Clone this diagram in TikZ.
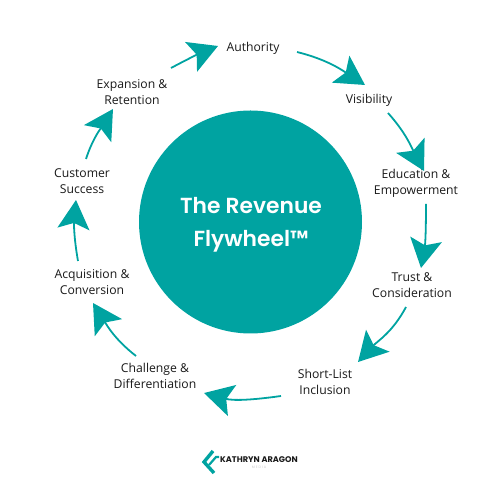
\documentclass[tikz,border=0pt]{standalone}
\usepackage{fontspec}
\setmainfont{Open Sans}
\newfontfamily\titlefont{Poppins SemiBold}
\newfontfamily\brandfont{Poppins}
\usetikzlibrary{arrows.meta}
\definecolor{flyteal}{HTML}{00A3A1}
\begin{document}
\begin{tikzpicture}[
        x=1pt, y=1pt,
        every node/.style={inner sep=0pt},
        stage/.style={align=center, text=black!90, font=\fontsize{12.2}{16}\selectfont},
        flow/.style={draw=flyteal, line width=1.8pt, -{Stealth[length=29pt, width=32pt, inset=6pt]}},
    ]
    \useasboundingbox (0,0) rectangle (500,500);

    \node[circle, fill=flyteal, minimum size=223pt](hub) at (250.5,278){};
    \node[align=center, text=white, font=\titlefont\fontsize{21.8}{33}\selectfont](title) at (251,275){The Revenue\\Flywheel™};

    \node[stage](authority) at (253,451.5){Authority};
    \node[stage](visibility) at (369,399.5){Visibility};
    \node[stage](education) at (416,316.5){Education \&\\Empowerment};
    \node[stage](trust) at (412,215){Trust \&\\Consideration};
    \node[stage](shortlist) at (325,118.5){Short-List\\Inclusion};
    \node[stage](challenge) at (155,124){Challenge \&\\Differentiation};
    \node[stage](acquisition) at (92,218){Acquisition \&\\Conversion};
    \node[stage](customer) at (82,319){Customer\\Success};
    \node[stage](expansion) at (132,408){Expansion \&\\Retention};

    \draw[flow] ([shift={(39,24)}]expansion.center) to[out=28, in=202] ([shift={(-35,2.5)}]authority.center);
    \draw[flow] ([shift={(44,-3.5)}]authority.center) to[out=-14, in=147] ([shift={(-4,15.5)}]visibility.center);
    \draw[flow] ([shift={(19,-12.5)}]visibility.center) to[out=-48, in=118] ([shift={(8,12.5)}]education.center);
    \draw[flow] ([shift={(10,-20.5)}]education.center) to[out=-90, in=80] ([shift={(9,17)}]trust.center);
    \draw[flow] ([shift={(-6,-22)}]trust.center) to[out=-118, in=47] ([shift={(33,19.5)}]shortlist.center);
    \draw[flow] ([shift={(-44,-14.5)}]shortlist.center) to[out=188, in=-15] ([shift={(49,-17)}]challenge.center);
    \draw[flow] ([shift={(-19,20)}]challenge.center) to[out=142, in=-58] ([shift={(1,-21)}]acquisition.center);
    \draw[flow] ([shift={(-14,21)}]acquisition.center) to[out=100, in=265] ([shift={(-6,-19)}]customer.center);
    \draw[flow] ([shift={(4,22)}]customer.center) to[out=72, in=238] ([shift={(-19,-17)}]expansion.center);

    % logo
    \draw[flyteal, line width=3.4pt] (213,49) -- (204,38) -- (214,27);
    \draw[flyteal, line width=2.2pt] (209,35) -- (216,43) -- (219,43);
    \node[anchor=west, font=\brandfont\bfseries\fontsize{8.2}{8}\selectfont, text=black!90](brand) at (220,40){KATHRYN ARAGON};
    \node[font=\brandfont\fontsize{3.5}{4}\selectfont, text=black!20](media) at (259,33){M E D I A};
\end{tikzpicture}
\end{document}
